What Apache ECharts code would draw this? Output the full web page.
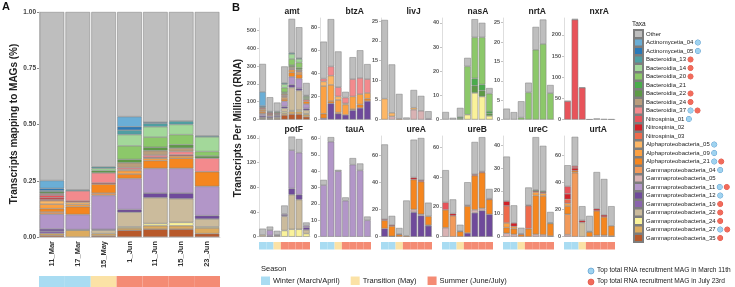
<!DOCTYPE html>
<html>
<head>
<meta charset="utf-8">
<script src="https://cdn.jsdelivr.net/npm/echarts@6/dist/echarts.min.js"></script>
<style>
html, body { margin: 0; padding: 0; background: #fff; }
#chart { width: 735px; height: 287px; }
</style>
</head>
<body>
<div id="chart"></div>
<script>
// sampling dates and the season each one falls in
const dates = ["11_Mar", "17_Mar", "15_May", "1_Jun", "11_Jun", "15_Jun", "23_Jun"];
const seasonNames = ["Winter (March/April)", "Transition (May)", "Summer (June/July)"];
const seasonColors = ["#a9dcf2", "#fbe2a6", "#f48b74"];
const dateSeason = [0, 0, 1, 2, 2, 2, 2];

// taxa in legend order (short code, full name, colour)
const taxaCodes = ["Other", "Act04", "Act05", "Bac13", "Bac14", "Bac20", "Bac21", "Bac22", "Bac24", "Bac37",
  "Nit01", "Nit02", "Nit03", "Alp05", "Alp09", "Alp21", "Gam04", "Gam05", "Gam11", "Gam12", "Gam19",
  "Gam22", "Gam24", "Gam27", "Gam35"];
const taxa = ["Other", "Actinomycetia_04", "Actinomycetia_05", "Bacteroidia_13", "Bacteroidia_14",
  "Bacteroidia_20", "Bacteroidia_21", "Bacteroidia_22", "Bacteroidia_24", "Bacteroidia_37",
  "Nitrospinia_01", "Nitrospinia_02", "Nitrospinia_03", "Alphaproteobacteria_05", "Alphaproteobacteria_09",
  "Alphaproteobacteria_21", "Gammaproteobacteria_04", "Gammaproteobacteria_05", "Gammaproteobacteria_11",
  "Gammaproteobacteria_12", "Gammaproteobacteria_19", "Gammaproteobacteria_22", "Gammaproteobacteria_24",
  "Gammaproteobacteria_27", "Gammaproteobacteria_35"];
const taxaColors = ["#bebebe", "#6aaed6", "#2a79b8", "#4f9fa3", "#a3d89a", "#8cc86a", "#4aac4c", "#5d9a45",
  "#b99d7c", "#f38a8d", "#e8535a", "#d42027", "#ef6b4c", "#fdb766", "#fca143", "#f5861f", "#f29a5a",
  "#d9b2b3", "#b296c8", "#6f4a9b", "#8a64ad", "#cbbb9c", "#faf29a", "#dcab5f", "#b8592b"];
// top total RNA recruitment MAGs
const marchTop = ["Act04", "Act05", "Bac37", "Nit01", "Alp05", "Alp09", "Alp21", "Gam04", "Gam11", "Gam12", "Gam27"];
const julyTop = ["Bac13", "Bac14", "Bac20", "Bac22", "Bac24", "Bac37", "Alp21", "Gam11", "Gam19", "Gam22", "Gam24", "Gam27", "Gam35"];

// A: fraction of transcripts mapping to MAGs
const panelA = [
  ["Gam35", [0.007, 0, 0.005, 0.03, 0.035, 0.035, 0.015]],
  ["Gam27", [0.009, 0.03, 0.01, 0.01, 0.015, 0.015, 0.025]],
  ["Gam24", [0, 0, 0, 0.005, 0.01, 0.015, 0.005]],
  ["Gam22", [0, 0, 0.015, 0.065, 0.115, 0.105, 0.035]],
  ["Gam19", [0.01, 0, 0, 0, 0, 0, 0]],
  ["Gam12", [0.01, 0.003, 0.004, 0.012, 0.02, 0.025, 0.015]],
  ["Gam11", [0.065, 0.067, 0.151, 0.138, 0.11, 0.11, 0.13]],
  ["Gam04", [0.01, 0, 0.01, 0, 0, 0, 0]],
  ["Alp21", [0.015, 0.035, 0.04, 0.02, 0.035, 0.045, 0.065]],
  ["Alp09", [0.02, 0.01, 0, 0.015, 0.01, 0.01, 0]],
  ["Alp05", [0.015, 0.01, 0, 0.005, 0, 0, 0]],
  ["Nit03", [0.005, 0, 0, 0, 0, 0, 0]],
  ["Nit02", [0.008, 0.005, 0.005, 0, 0.004, 0.005, 0]],
  ["Nit01", [0.012, 0, 0, 0, 0, 0, 0]],
  ["Bac37", [0.005, 0.045, 0.045, 0.008, 0.01, 0.015, 0.06]],
  ["Bac24", [0.003, 0, 0, 0.022, 0.02, 0.015, 0]],
  ["Bac22", [0.007, 0, 0.01, 0.015, 0.015, 0.015, 0.01]],
  ["Bac20", [0, 0, 0, 0.06, 0.045, 0.045, 0.02]],
  ["Bac14", [0, 0, 0.01, 0.05, 0.046, 0.045, 0.065]],
  ["Bac13", [0.005, 0.005, 0.007, 0.02, 0.015, 0.015, 0.005]],
  ["Act05", [0.01, 0, 0, 0.015, 0.005, 0, 0]],
  ["Act04", [0.035, 0, 0, 0.045, 0, 0, 0]],
  ["Other", [0.749, 0.79, 0.688, 0.465, 0.49, 0.485, 0.55]]
];
const panelATicks = [0, 0.25, 0.5, 0.75, 1];

// B: transcripts per million, one array per gene
const amt = [
  ["Gam35", [3, 3, 4, 25, 30, 30, 15]],
  ["Gam27", [5, 5, 6, 10, 15, 15, 12]],
  ["Gam24", [0, 0, 0, 8, 5, 8, 5]],
  ["Gam22", [4, 0, 5, 20, 130, 110, 20]],
  ["Gam12", [8, 6, 6, 10, 15, 12, 10]],
  ["Gam11", [10, 8, 5, 30, 45, 55, 25]],
  ["Gam04", [6, 0, 0, 0, 0, 0, 0]],
  ["Alp21", [10, 6, 4, 12, 25, 25, 15]],
  ["Alp09", [8, 0, 0, 10, 15, 12, 0]],
  ["Alp05", [6, 0, 0, 5, 0, 0, 0]],
  ["Nit02", [0, 4, 5, 0, 0, 0, 0]],
  ["Nit01", [6, 6, 0, 0, 0, 0, 0]],
  ["Bac37", [0, 0, 0, 5, 5, 5, 10]],
  ["Bac24", [0, 0, 0, 10, 10, 8, 0]],
  ["Bac22", [4, 3, 6, 8, 10, 10, 6]],
  ["Bac20", [0, 0, 0, 25, 35, 30, 8]],
  ["Bac14", [0, 0, 0, 20, 28, 20, 6]],
  ["Bac13", [0, 0, 4, 7, 7, 5, 3]],
  ["Act05", [6, 4, 0, 0, 0, 0, 0]],
  ["Act04", [79, 0, 0, 0, 0, 0, 0]],
  ["Other", [157, 80, 50, 93, 190, 173, 70]]
];
const btzA = [
  ["Gam12", [1, 14, 5, 4, 8, 10, 16]],
  ["Alp21", [4, 2, 1, 0, 1, 3, 2]],
  ["Alp09", [24, 14, 11, 9, 11, 9, 5]],
  ["Alp05", [4, 8, 3, 1, 0, 0, 0]],
  ["Bac37", [2.5, 8, 8, 5, 15, 14, 12]],
  ["Other", [32, 41, 31, 5, 19, 24, 13]]
];
const livJ = [
  ["Gam12", [0, 0, 0, 0, 0, 0, 0.2]],
  ["Gam05", [0, 0.8, 0, 0, 2.5, 2.2, 0]],
  ["Alp21", [0, 0, 0.2, 0, 0, 0, 0]],
  ["Alp05", [5.3, 0.9, 0, 0, 0.5, 0, 0]],
  ["Other", [20, 12.3, 6.3, 0.5, 4.5, 3.8, 1.9]]
];
const nasA = [
  ["Gam24", [0, 0, 0, 2, 11, 9.5, 1.5]],
  ["Bac22", [0, 0, 0.5, 0, 3, 2.5, 1]],
  ["Bac21", [0, 0, 0.5, 0, 3, 2.5, 1]],
  ["Bac20", [0, 0, 0, 20, 17, 19.5, 7.2]],
  ["Other", [3.1, 0.7, 3.8, 3.5, 7.5, 6, 2.3]]
];
const nrtA = [
  ["Bac20", [0, 0, 0.5, 7, 18, 19.5, 6.8]],
  ["Other", [2.8, 1.9, 4.2, 2.5, 5.9, 6.3, 2.1]]
];
const nxrA = [
  ["Nit01", [43, 236, 75, 0, 0, 0, 0]],
  ["Other", [1, 2, 1, 0.3, 2.5, 1, 0.5]]
];
const potF = [
  ["Gam24", [0, 0, 0, 10, 12, 12, 5]],
  ["Gam22", [3, 0, 2, 23, 56, 48, 6]],
  ["Gam12", [0, 2, 1, 2, 10, 8, 4]],
  ["Gam11", [0, 8.5, 0, 2, 62, 68, 3]],
  ["Other", [10, 5.8, 6.5, 13.5, 22, 22, 5]]
];
const tauA = [
  ["Gam11", [31.5, 58, 40, 22, 44, 40.5, 10]],
  ["Other", [3.2, 2.8, 0.8, 2, 4, 4.2, 2.3]]
];
const ureA = [
  ["Gam12", [6, 0.3, 0, 0, 18, 15.5, 8]],
  ["Gam05", [0, 0, 0, 0, 2, 1, 0.5]],
  ["Alp21", [6, 7.5, 1.5, 0.7, 22, 24, 6.5]],
  ["Nit02", [0.8, 0.8, 0.5, 0, 1.5, 1, 0]],
  ["Other", [55, 6.7, 4.4, 25.9, 27.8, 31, 10]]
];
const ureB = [
  ["Gam12", [0, 0, 0, 2.5, 16, 17.5, 15]],
  ["Gam05", [6, 0, 0, 0, 2, 1.5, 0]],
  ["Gam04", [0, 14, 0, 0, 0, 0, 0]],
  ["Alp21", [12, 0, 3.5, 18, 23, 24, 10]],
  ["Nit02", [0, 1.5, 0.3, 0.5, 0.8, 0.7, 0.5]],
  ["Nit01", [5, 0, 0, 0, 0, 0, 0]],
  ["Other", [21.6, 9.5, 4.2, 15.5, 21.7, 23, 6.5]]
];
const ureC = [
  ["Gam05", [1.5, 1, 0, 0, 1, 0.8, 0.3]],
  ["Alp21", [2.5, 2.5, 1, 3.5, 17, 17, 5.5]],
  ["Alp09", [2, 1, 0, 0, 1.5, 1.2, 0]],
  ["Nit03", [7.5, 0, 0, 10, 0, 0, 0]],
  ["Nit02", [2, 1.5, 0.3, 0.3, 0.5, 0.5, 0]],
  ["Bac22", [0, 0, 0, 0, 0.5, 0.5, 0.3]],
  ["Other", [19.5, 7.7, 2.6, 7.7, 23, 19.7, 4.7]]
];
const urtA = [
  ["Gam22", [0, 0, 10.5, 0, 0, 0, 0]],
  ["Gam05", [1.5, 0, 0, 0, 1, 1, 0.5]],
  ["Gam04", [15, 47, 0, 0, 0, 0, 0]],
  ["Alp21", [6, 1.5, 0, 3.5, 18, 13.5, 7.5]],
  ["Alp09", [2, 0, 0, 0, 0, 0, 0]],
  ["Nit03", [3, 0, 0, 0, 0, 0, 0]],
  ["Nit02", [4, 2, 1.5, 0.3, 1.5, 1.5, 0]],
  ["Nit01", [5.5, 1.5, 0, 0, 0, 0, 0]],
  ["Other", [15.5, 21.4, 10.4, 11.5, 27, 26.4, 14.4]]
];

// tick labels of each gene panel
const amtTicks = [0, 100, 200, 300, 400, 500];
const btzATicks = [0, 20, 40, 60, 80];
const livJTicks = [0, 5, 10, 15, 20, 25];
const nasATicks = [0, 10, 20, 30, 40];
const nrtATicks = [0, 5, 10, 15, 20, 25];
const nxrATicks = [0, 50, 100, 150, 200];
const potFTicks = [0, 40, 80, 120, 160];
const tauATicks = [0, 10, 20, 30, 40, 50, 60];
const ureATicks = [0, 20, 40, 60];
const ureBTicks = [0, 20, 40, 60];
const ureCTicks = [0, 10, 20, 30, 40];
const urtATicks = [0, 20, 40, 60];

const genes = [
  { name: "amt", rows: amt, ticks: amtTicks, max: 570 },
  { name: "btzA", rows: btzA, ticks: btzATicks, max: 88 },
  { name: "livJ", rows: livJ, ticks: livJTicks, max: 25.8 },
  { name: "nasA", rows: nasA, ticks: nasATicks, max: 42 },
  { name: "nrtA", rows: nrtA, ticks: nrtATicks, max: 26.2 },
  { name: "nxrA", rows: nxrA, ticks: nxrATicks, max: 240 },
  { name: "potF", rows: potF, ticks: potFTicks, max: 163 },
  { name: "tauA", rows: tauA, ticks: tauATicks, max: 61.5 },
  { name: "ureA", rows: ureA, ticks: ureATicks, max: 74 },
  { name: "ureB", rows: ureB, ticks: ureBTicks, max: 67.5 },
  { name: "ureC", rows: ureC, ticks: ureCTicks, max: 44 },
  { name: "urtA", rows: urtA, ticks: urtATicks, max: 74 }
];

const FONT = "Liberation Sans, Arial, sans-serif";
const grid = [], xAxis = [], yAxis = [], series = [], graphic = [];

function addStackedBars(rows, gi, gap) {
  for (let k = taxaCodes.length - 1; k >= 0; k--) {
    const row = rows.find(r => r[0] === taxaCodes[k]);
    if (!row) continue;
    series.push({
      type: "bar", name: taxa[k], xAxisIndex: gi, yAxisIndex: gi, stack: "p" + gi,
      barCategoryGap: gap, silent: true,
      data: row[1].map(v => v || "-"),
      itemStyle: { color: taxaColors[k], borderColor: "#7d7d7d", borderWidth: 0.5 }
    });
  }
}

function addSeasonStrip(gi) {
  seasonNames.forEach((s, si) => {
    series.push({
      type: "bar", name: s, xAxisIndex: gi, yAxisIndex: gi, stack: "s" + gi,
      barCategoryGap: "0%", silent: true,
      data: dateSeason.map(d => d === si ? 1 : "-"),
      itemStyle: { color: seasonColors[si] }
    });
  });
}

function hiddenAxes(gi) {
  xAxis.push({ type: "category", gridIndex: gi, data: dates, show: false });
  yAxis.push({ type: "value", gridIndex: gi, min: 0, max: 1, show: false });
}

// panel A
grid.push({ left: 39, top: 12, width: 181, height: 225, outerBoundsMode: "none" });
xAxis.push({
  type: "category", gridIndex: 0, data: dates,
  axisLine: { lineStyle: { color: "#bbb", width: 0.6 } },
  axisTick: { length: 2, lineStyle: { color: "#888" } },
  axisLabel: { rotate: 90, fontSize: 7.5, fontWeight: "bold", color: "#333", margin: 4, fontFamily: FONT }
});
yAxis.push({
  type: "value", gridIndex: 0, min: 0, max: 1, interval: 0.25,
  splitLine: { show: false },
  axisLine: { show: true, lineStyle: { color: "#bbb", width: 0.6 } },
  axisTick: { show: true, length: 2, lineStyle: { color: "#888" } },
  axisLabel: { fontSize: 6.5, fontWeight: "bold", color: "#444", margin: 3, fontFamily: FONT,
    customValues: panelATicks, formatter: v => v.toFixed(2) }
});
addStackedBars(panelA, 0, "5%");

// panel A season strip
grid.push({ left: 39, top: 276, width: 181, height: 11, outerBoundsMode: "none" });
hiddenAxes(1);
addSeasonStrip(1);

// panel B
genes.forEach((g, i) => {
  const col = i % 6, row = Math.floor(i / 6);
  const left = 259 + col * 61;
  const top = row ? 136 : 18;
  const gi = grid.length;
  grid.push({ left: left, top: top, width: 51, height: row ? 100.7 : 101.5, outerBoundsMode: "none" });
  xAxis.push({
    type: "category", gridIndex: gi, data: dates,
    axisLine: { lineStyle: { color: "#c8c8c8", width: 0.6 } },
    axisTick: { length: 2, lineStyle: { color: "#999", width: 0.6 } },
    axisLabel: { show: false }
  });
  yAxis.push({
    type: "value", gridIndex: gi, min: 0, max: g.max,
    splitLine: { show: false },
    axisLine: { show: true, lineStyle: { color: "#c8c8c8", width: 0.6 } },
    axisTick: { show: true, length: 2, customValues: g.ticks, lineStyle: { color: "#999", width: 0.6 } },
    axisLabel: { fontSize: 5.5, fontWeight: "bold", color: "#555", margin: 3, fontFamily: FONT,
      customValues: g.ticks }
  });
  addStackedBars(g.rows, gi, "10%");
  graphic.push({
    type: "text", left: left + 25.5, top: top - 11,
    style: { text: g.name, fontSize: 8.5, fontWeight: "bold", fill: "#222", font: "bold 8.5px " + FONT,
      textAlign: "center" }
  });
  if (row === 1) {
    const si = grid.length;
    grid.push({ left: left, top: 242, width: 51, height: 7.5, outerBoundsMode: "none" });
    hiddenAxes(si);
    addSeasonStrip(si);
  }
});

// panel letters and axis titles
graphic.push(
  { type: "text", left: 2, top: 1, style: { text: "A", font: "bold 11px " + FONT, fill: "#111" } },
  { type: "text", left: 232, top: 2, style: { text: "B", font: "bold 11px " + FONT, fill: "#111" } },
  { type: "text", x: 14, y: 124, rotation: Math.PI / 2,
    style: { text: "Transcripts mapping to MAGs (%)", font: "bold 10px " + FONT, fill: "#222",
      textAlign: "center", textVerticalAlign: "middle" } },
  { type: "text", x: 238, y: 128, rotation: Math.PI / 2,
    style: { text: "Transcripts Per Million (RNA)", font: "bold 10px " + FONT, fill: "#222",
      textAlign: "center", textVerticalAlign: "middle" } },
  { type: "text", left: 632, top: 21, style: { text: "Taxa", font: "6.5px " + FONT, fill: "#222" } },
  { type: "text", left: 261, top: 265, style: { text: "Season", font: "7.5px " + FONT, fill: "#222" } },
  { type: "circle", shape: { cx: 591, cy: 271, r: 3 }, style: { fill: "#9fd3f0", stroke: "#4a90c8", lineWidth: 0.6 } },
  { type: "circle", shape: { cx: 591, cy: 282, r: 3 }, style: { fill: "#f26b5b", stroke: "#d9473a", lineWidth: 0.6 } },
  { type: "text", left: 597, top: 267, style: { text: "Top total RNA recruitment MAG in March 11th", font: "6.6px " + FONT, fill: "#222" } },
  { type: "text", left: 597, top: 278, style: { text: "Top total RNA recruitment MAG in July 23rd", font: "6.6px " + FONT, fill: "#222" } }
);

const option = {
  backgroundColor: "#fff",
  animation: false,
  grid: grid,
  xAxis: xAxis,
  yAxis: yAxis,
  series: series,
  graphic: graphic,
  legend: [
    {
      data: taxa, orient: "vertical", left: 633, top: 29, padding: 0, height: 240,
      itemWidth: 9, itemHeight: 8, itemGap: -1.5, icon: "rect", selectedMode: false,
      formatter: name => {
        const code = taxaCodes[taxa.indexOf(name)];
        let s = name;
        if (marchTop.includes(code)) s += "{g| }{b| }";
        if (julyTop.includes(code)) s += "{g| }{r| }";
        return s;
      },
      textStyle: {
        fontSize: 6, lineHeight: 8, color: "#222", fontFamily: FONT, padding: [0, 0, 0, -2],
        rich: {
          g: { width: 2, fontSize: 6, lineHeight: 8 },
          b: { width: 5, height: 5, borderRadius: 2.5, backgroundColor: "#9fd3f0", borderColor: "#4a90c8", borderWidth: 0.5 },
          r: { width: 5, height: 5, borderRadius: 2.5, backgroundColor: "#f26b5b", borderColor: "#d9473a", borderWidth: 0.5 }
        }
      }
    },
    {
      data: seasonNames, orient: "horizontal", left: 261, top: 276.5, padding: 0,
      itemWidth: 9, itemHeight: 8.5, itemGap: 11, icon: "rect", selectedMode: false,
      textStyle: { fontSize: 7.5, color: "#222", fontFamily: FONT, padding: [0, 0, 0, -2] }
    }
  ]
};

const myChart = echarts.init(document.getElementById("chart"), null, { renderer: "canvas" });
myChart.setOption(option);
</script>
</body>
</html>
